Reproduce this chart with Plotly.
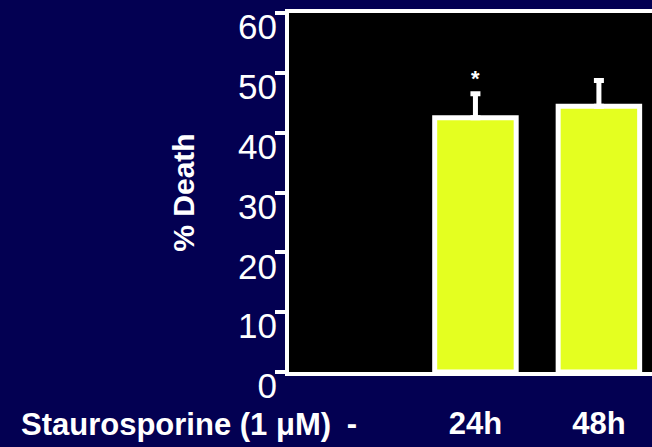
import plotly.graph_objects as go

categories = ["-", "24h", "48h"]
death_pct = [None, 42.5, 44.4]
err_up = [None, 4.0, 4.3]
y_ticks = [0, 10, 20, 30, 40, 50, 60]
x_title = "Staurosporine (1 μM)"
y_title = "% Death"

NAVY = "#030052"
BAR = "#e4ff20"

fig = go.Figure()
fig.add_trace(go.Bar(
    x=categories, y=death_pct,
    marker=dict(color=BAR, line=dict(color="white", width=5)),
    error_y=dict(type="data", array=err_up, arrayminus=[0, 0, 0], symmetric=False,
                 color="white", thickness=5, width=5),
    showlegend=False,
))

fig.add_annotation(x=categories[1], y=death_pct[1] + err_up[1] + 2.6, xref="x", yref="y",
                   text="*", showarrow=False,
                   font=dict(color="white", size=22, family="Liberation Sans", weight="bold"))

fig.add_annotation(x=-0.745, y=-0.145, xref="paper", yref="paper", xanchor="left", yanchor="middle",
                   text=x_title, showarrow=False,
                   font=dict(color="white", size=31, family="Liberation Sans", weight="bold"))

fig.update_layout(
    width=652, height=447,
    margin=dict(l=289, r=0, t=13, b=75),
    paper_bgcolor=NAVY, plot_bgcolor="black",
    bargap=0.34,
    font=dict(family="Liberation Sans", color="white"),
)
fig.update_xaxes(
    range=[-0.51, 2.43], showline=True, linecolor="white", linewidth=4, mirror=True,
    showgrid=False, zeroline=False, ticks="", ticklabelstandoff=21, automargin=False,
    tickfont=dict(size=31, color="white", family="Liberation Sans", weight="bold"),
)
fig.update_yaxes(
    range=[0, 60], tickvals=y_ticks, showline=True, linecolor="white", linewidth=4,
    showgrid=False, zeroline=False, ticks="outside", ticklen=10, tickwidth=4, tickcolor="white",
    ticklabelshift=14, ticklabelstandoff=-9, automargin=False,
    tickfont=dict(size=35, color="white", family="Liberation Sans"),
    title=dict(text=y_title, standoff=36,
               font=dict(size=30, color="white", family="Liberation Sans", weight="bold")),
)

fig.write_html(
    "out.html",
    config={"displayModeBar": False},
    post_script="document.body.style.margin='0';document.body.style.overflow='hidden';"
                "document.body.style.background='" + NAVY + "';",
)
